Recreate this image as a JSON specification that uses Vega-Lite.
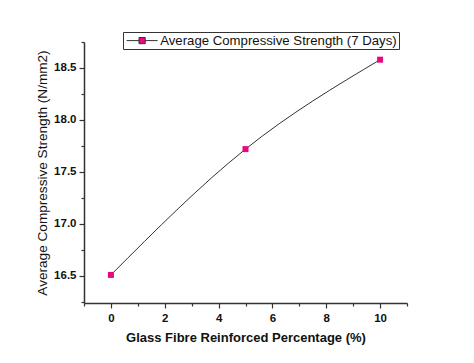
{
  "$schema": "https://vega.github.io/schema/vega-lite/v6.json",
  "width": 323,
  "height": 261,
  "autosize": "none",
  "padding": {"left": 84, "top": 42, "right": 67, "bottom": 60},
  "background": "white",
  "config": {
    "view": {"stroke": null},
    "font": "Liberation Sans",
    "axis": {
      "grid": false,
      "domainColor": "#333333",
      "domainWidth": 1.5,
      "tickColor": "#333333",
      "tickWidth": 1.2,
      "labelFont": "Liberation Sans",
      "labelFontWeight": "bold",
      "labelFontSize": 11.5,
      "labelColor": "#111111",
      "titleFont": "Liberation Sans",
      "titleColor": "#111111"
    }
  },
  "data": {
    "values": [
      {"pct": 0, "strength": 16.51, "series": "Average Compressive Strength (7 Days)"},
      {"pct": 5, "strength": 17.72, "series": "Average Compressive Strength (7 Days)"},
      {"pct": 10, "strength": 18.58, "series": "Average Compressive Strength (7 Days)"}
    ]
  },
  "encoding": {
    "x": {
      "field": "pct",
      "type": "quantitative",
      "scale": {"domain": [-1, 11], "nice": false, "zero": false},
      "axis": {
        "title": "Glass Fibre Reinforced Percentage (%)",
        "titleFontSize": 13,
        "titleFontWeight": "bold",
        "titlePadding": 8,
        "values": [-1, 0, 1, 2, 3, 4, 5, 6, 7, 8, 9, 10, 11],
        "labelExpr": "datum.value >= 0 && datum.value <= 10 && datum.value % 2 == 0 ? datum.label : ''",
        "tickSize": {"condition": {"test": "datum.value % 2 == 0", "value": 5}, "value": 3},
        "labelPadding": 4
      }
    },
    "y": {
      "field": "strength",
      "type": "quantitative",
      "scale": {"domain": [16.24, 18.75], "nice": false, "zero": false},
      "axis": {
        "title": "Average Compressive Strength (N/mm2)",
        "titleFontSize": 13.6,
        "titleFontWeight": "normal",
        "titlePadding": 4,
        "values": [16.25, 16.5, 16.75, 17, 17.25, 17.5, 17.75, 18, 18.25, 18.5, 18.75],
        "format": ".1f",
        "labelExpr": "(datum.value * 4) % 2 == 0 ? datum.label : ''",
        "tickSize": {"condition": {"test": "(datum.value * 4) % 2 == 0", "value": 5}, "value": 3},
        "labelPadding": 3
      }
    }
  },
  "layer": [
    {
      "mark": {"type": "line", "interpolate": "monotone", "color": "#333333", "strokeWidth": 1}
    },
    {
      "mark": {"type": "point", "shape": "square", "filled": true, "size": 36, "opacity": 1},
      "encoding": {
        "color": {
          "field": "series",
          "type": "nominal",
          "scale": {"range": ["#e6097f"]},
          "legend": {
            "title": null,
            "orient": "none",
            "legendX": 39,
            "legendY": -10,
            "strokeColor": "#333333",
            "padding": 2,
            "labelFont": "Liberation Sans",
            "labelFontSize": 13.2,
            "labelLimit": 400,
            "labelColor": "#111111",
            "labelOffset": 22,
            "symbolType": "M-1,0H1.48M2.72,0H5.2M1.48,-0.62H2.72V0.62H1.48Z",
            "symbolSize": 100,
            "symbolStrokeColor": "#333333",
            "symbolStrokeWidth": 1,
            "symbolFillColor": "#e6097f"
          }
        }
      }
    }
  ]
}
